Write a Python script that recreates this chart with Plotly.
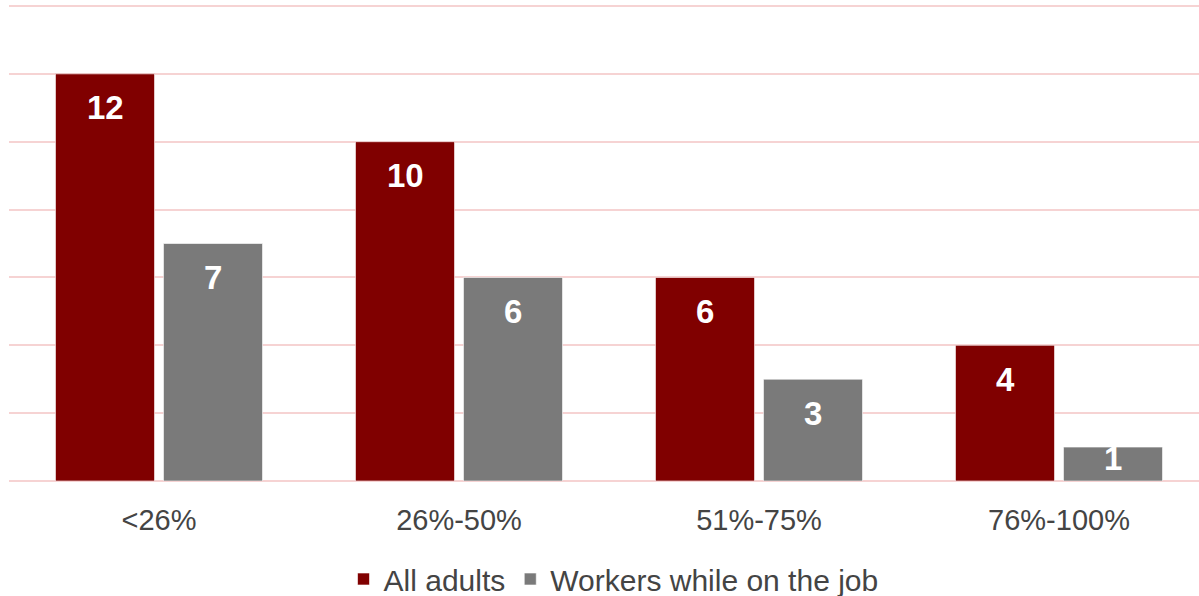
import plotly.graph_objects as go

# Share of income bands (categories) and values per group
categories = ["<26%", "26%-50%", "51%-75%", "76%-100%"]
all_adults = [12, 10, 6, 4]
workers_on_job = [7, 6, 3, 1]
series_names = ["All adults", "Workers while on the job"]

RED = "#800000"
GREY = "#7a7a7a"
GRID = "#f6d3d3"
TEXT = "#444444"
FONT = "Liberation Sans, Arial, sans-serif"

W, H = 1199, 596
M_L, M_R, M_T, M_B = 9, 0, 2, 115
Y_TOP = 14
px_per_unit = (481 - 6) / Y_TOP
y_max = (H - M_T - M_B) / px_per_unit

fig = go.Figure()
for name, vals, color in [(series_names[0], all_adults, RED),
                          (series_names[1], workers_on_job, GREY)]:
    fig.add_trace(go.Bar(
        x=categories, y=vals, name=name,
        marker=dict(color=color, line=dict(color="rgba(255,255,255,0.6)", width=1)),
        hoverinfo="skip",
    ))

# Value labels near the top inside each bar
group_w = 300 * (1 - 0.28)
slot = group_w / 2
offsets = [-slot / 2, slot / 2]
for k, vals in enumerate([all_adults, workers_on_job]):
    for cat, v in zip(categories, vals):
        drop = min(34, v * px_per_unit - 22)
        fig.add_annotation(
            x=cat, y=v, xref="x", yref="y", text=f"<b>{v}</b>",
            showarrow=False, xshift=offsets[k], yshift=-drop,
            yanchor="middle", xanchor="center",
            font=dict(family=FONT, size=33, color="white"),
        )

fig.update_layout(
    width=W, height=H,
    margin=dict(l=M_L, r=M_R, t=M_T, b=M_B),
    paper_bgcolor="white", plot_bgcolor="white",
    barmode="group", bargap=0.28, bargroupgap=0.083,
    font=dict(family=FONT, color=TEXT),
    showlegend=True,
    legend=dict(
        orientation="h", x=0.508, xanchor="center",
        yref="container", y=17 / H, yanchor="middle",
        font=dict(family=FONT, size=30, color=TEXT),
        itemwidth=30, tracegroupgap=0,
    ),
    xaxis=dict(
        type="category", range=[-0.5, 3.5 - 10 / 300],
        showgrid=False, zeroline=False, showline=False,
        ticks="outside", ticklen=13, tickcolor="rgba(0,0,0,0)",
        tickfont=dict(family=FONT, size=29, color=TEXT),
    ),
    yaxis=dict(
        range=[0, y_max], tick0=0, dtick=2, showticklabels=False,
        showgrid=True, gridcolor=GRID, gridwidth=2,
        zeroline=True, zerolinecolor=GRID, zerolinewidth=2,
        showline=False, ticks="",
    ),
)

fig.write_html("out.html")
